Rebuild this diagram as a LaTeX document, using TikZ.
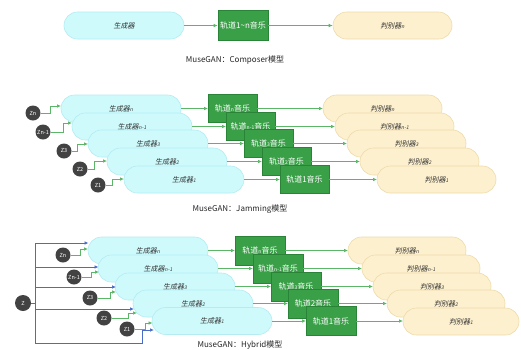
\documentclass[tikz,border=0pt]{standalone}
\usepackage{fontspec}
\setmainfont{Noto Sans CJK SC}
\newfontfamily\slfont[FakeSlant=0.2]{Noto Sans CJK SC}
\usetikzlibrary{arrows.meta}
\definecolor{genfill}{RGB}{206,250,252}
\definecolor{gendraw}{RGB}{180,236,242}
\definecolor{disfill}{RGB}{253,240,206}
\definecolor{disdraw}{RGB}{238,220,172}
\definecolor{trkfill}{RGB}{58,160,72}
\definecolor{trkdraw}{RGB}{42,132,56}
\definecolor{arrgreen}{RGB}{92,182,104}
\definecolor{arrblue}{RGB}{72,108,200}
\definecolor{zfill}{RGB}{66,66,66}
\newcommand\smx[1]{{\fontsize{5}{5}\selectfont #1}}
\begin{document}
\begin{tikzpicture}[x=1pt,y=-1pt,
  gen/.style={rounded corners=13.5pt, fill=genfill, draw=gendraw, line width=0.6pt,
    minimum width=120pt, minimum height=27pt, inner sep=0pt,
    font=\slfont\fontsize{7}{7}\selectfont, text=black!80},
  dis/.style={gen, fill=disfill, draw=disdraw},
  trk/.style={fill=trkfill, draw=trkdraw, line width=0.6pt, minimum width=49pt,
    minimum height=28pt, inner sep=0pt, text=white, font=\fontsize{8}{8}\selectfont},
  zc/.style={circle, fill=zfill, minimum size=15pt, inner sep=0pt, text=white,
    font=\fontsize{5.5}{5.5}\selectfont},
  captxt/.style={font=\fontsize{8}{8}\selectfont, text=black!85, inner sep=0pt},
  garrow/.style={draw=arrgreen, line width=0.7pt, -{Latex[length=4pt,width=3.5pt]}},
  barrow/.style={draw=arrblue, line width=0.7pt, -{Latex[length=4pt,width=3.5pt]}},
  bline/.style={draw=arrblue, line width=0.7pt}]
\useasboundingbox (0,0) rectangle (521,349);
\fill[white] (0,0) rectangle (521,349);

% ---------- Composer ----------
\node[gen] (g0) at (124,25.5) {生成器};
\node[trk, minimum width=50pt, minimum height=30pt] (t0) at (243,25.5) {轨道1\textasciitilde n音乐};
\node[dis, minimum width=119pt] (d0) at (392.5,25.5) {判别器\smx{n}};
\draw[garrow] (g0.east) -- (t0.west);
\draw[garrow] (t0.east) -- (d0.west);
\node[captxt] (c0) at (235,60) {MuseGAN：Composer模型};

% ---------- Jamming ----------
\node[gen] (mgn) at (121,108.5) {生成器\smx{n}};
\node[gen] (mgm) at (132,126.5) {生成器\smx{n-1}};
\node[gen] (mg3) at (148,143.5) {生成器\smx{3}};
\node[gen] (mg2) at (167,161.5) {生成器\smx{2}};
\node[gen] (mg1) at (184,179.5) {生成器\smx{1}};

\draw[garrow] (mgn.east) -- (208,108.5) coordinate (mtn-in);
\draw[garrow] (mgm.east) -- (226,126.5) coordinate (mtm-in);
\draw[garrow] (mg3.east) -- (244,143.5) coordinate (mt3-in);
\draw[garrow] (mg2.east) -- (262,161.5) coordinate (mt2-in);
\draw[garrow] (mg1.east) -- (280,179.5) coordinate (mt1-in);

\node[trk] (mtn) at (232.5,108.5) {轨道\smx{n}音乐};
\node[trk] (mtm) at (250.5,126.5) {轨道\smx{n-1}音乐};
\node[trk] (mt3) at (268.5,143.5) {轨道\smx{3}音乐};
\node[trk] (mt2) at (286.5,161.5) {轨道\smx{2}音乐};
\node[trk] (mt1) at (304.5,179.5) {轨道1音乐};

\draw[garrow] (mtn.east) -- (323,108.5);
\draw[garrow] (mtm.east) -- (335,126.5);
\draw[garrow] (mt3.east) -- (347,143.5);
\draw[garrow] (mt2.east) -- (360,161.5);
\draw[garrow] (mt1.east) -- (377,179.5);

\node[dis, minimum width=119pt] (mdn) at (382.5,108.5) {判别器\smx{n}};
\node[dis, minimum width=119pt] (mdm) at (394.5,126.5) {判别器\smx{n-1}};
\node[dis, minimum width=119pt] (md3) at (406.5,143.5) {判别器\smx{3}};
\node[dis, minimum width=119pt] (md2) at (419.5,161.5) {判别器\smx{2}};
\node[dis, minimum width=119pt] (md1) at (436.5,179.5) {判别器\smx{1}};

\node[zc] (mzn) at (33,113) {Zn};
\node[zc] (mzm) at (43,132) {Zn-1};
\node[zc] (mz3) at (64,151) {Z3};
\node[zc] (mz2) at (80,169) {Z2};
\node[zc] (mz1) at (98,185) {Z1};
\coordinate (mgn-in) at (61,106);
\coordinate (mgm-in) at (72,123);
\coordinate (mg3-in) at (88,144);
\coordinate (mg2-in) at (107,161);
\coordinate (mg1-in) at (124,179);
\draw[garrow] (mzn.east) -- ++(9.5,0) |- (mgn-in);
\draw[garrow] (mzm.east) -- ++(12.5,0) |- (mgm-in);
\draw[garrow] (mz3.east) -- ++(5.5,0) |- (mg3-in);
\draw[garrow] (mz2.east) -- ++(6.5,0) |- (mg2-in);
\draw[garrow] (mz1.east) -- ++(6.5,0) |- (mg1-in);
\node[captxt] (c1) at (240,209) {MuseGAN：Jamming模型};

% ---------- Hybrid ----------
\node[gen] (hgn) at (148,250.5) {生成器\smx{n}};
\node[gen] (hgm) at (158,268.5) {生成器\smx{n-1}};
\node[gen] (hg3) at (175,286.5) {生成器\smx{3}};
\node[gen] (hg2) at (193,303.5) {生成器\smx{2}};
\node[gen] (hg1) at (212,321) {生成器\smx{1}};

\draw[garrow] (hgn.east) -- (235,250.5);
\draw[garrow] (hgm.east) -- (253,268.5);
\draw[garrow] (hg3.east) -- (271,286.5);
\draw[garrow] (hg2.east) -- (288,303.5);
\draw[garrow] (hg1.east) -- (306,321);

\node[trk, minimum width=50pt, minimum height=29pt] (htn) at (260,250.5) {轨道\smx{n}音乐};
\node[trk, minimum width=50pt, minimum height=29pt] (htm) at (278,268.5) {轨道\smx{n-1}音乐};
\node[trk, minimum width=50pt, minimum height=29pt] (ht3) at (296,286.5) {轨道\smx{3}音乐};
\node[trk, minimum width=50pt, minimum height=29pt] (ht2) at (313,303.5) {轨道2音乐};
\node[trk, minimum width=50pt, minimum height=29pt] (ht1) at (331,321) {轨道1音乐};

\draw[garrow] (htn.east) -- (348,250.5);
\draw[garrow] (htm.east) -- (362,268.5);
\draw[garrow] (ht3.east) -- (373,286.5);
\draw[garrow] (ht2.east) -- (387,303.5);
\draw[garrow] (ht1.east) -- (403,321);

\node[dis, minimum width=118pt] (hdn) at (407,250.5) {判别器\smx{n}};
\node[dis, minimum width=118pt] (hdm) at (421,268.5) {判别器\smx{n-1}};
\node[dis, minimum width=118pt] (hd3) at (432,286.5) {判别器\smx{3}};
\node[dis, minimum width=118pt] (hd2) at (446,303.5) {判别器\smx{2}};
\node[dis, minimum width=116pt] (hd1) at (461,321.5) {判别器\smx{1}};

\node[zc, minimum size=16pt] (hz) at (23,303) {Z};
\node[zc] (hzn) at (63,255) {Zn};
\node[zc] (hzm) at (74,277) {Zn-1};
\node[zc] (hz3) at (90,298) {Z3};
\node[zc] (hz2) at (104,318) {Z2};
\node[zc] (hz1) at (127,329) {Z1};

% blue bus
\coordinate (b1) at (35,243);
\coordinate (b2) at (35,267);
\coordinate (bm) at (35,303);
\coordinate (b3) at (35,287);
\coordinate (b4) at (35,309);
\coordinate (b5) at (35,343);
\coordinate (bk) at (142,330);
\coordinate (hgn-b) at (88.5,243);
\coordinate (hgm-b) at (98.5,267);
\coordinate (hg3-b) at (116,287);
\coordinate (hg2-b) at (134,309);
\coordinate (hg1-b) at (154,330);
\draw[bline] (hz.east) -- (bm);
\draw[bline] (b1) -- (b5);
\draw[barrow] (b1) -- (hgn-b);
\draw[barrow] (b2) -- (hgm-b);
\draw[barrow] (b3) -- (hg3-b);
\draw[barrow] (b4) -- (hg2-b);
\draw[barrow] (b5) -| (bk) -- (hg1-b);

% green from z_i
\coordinate (hgn-in) at (88,249);
\coordinate (hgm-in) at (99,272);
\coordinate (hg3-in) at (116,292);
\coordinate (hg2-in) at (137,313);
\coordinate (hg1-in) at (152.5,323);
\draw[garrow] (hzn.east) -- ++(9.5,0) |- (hgn-in);
\draw[garrow] (hzm.east) -- ++(9.5,0) |- (hgm-in);
\draw[garrow] (hz3.east) -- ++(12.5,0) |- (hg3-in);
\draw[garrow] (hz2.east) -- ++(16.5,0) |- (hg2-in);
\draw[garrow] (hz1.east) -- ++(10.5,0) |- (hg1-in);
\node[captxt] (c2) at (240,345) {MuseGAN：Hybrid模型};
\end{tikzpicture}
\end{document}
